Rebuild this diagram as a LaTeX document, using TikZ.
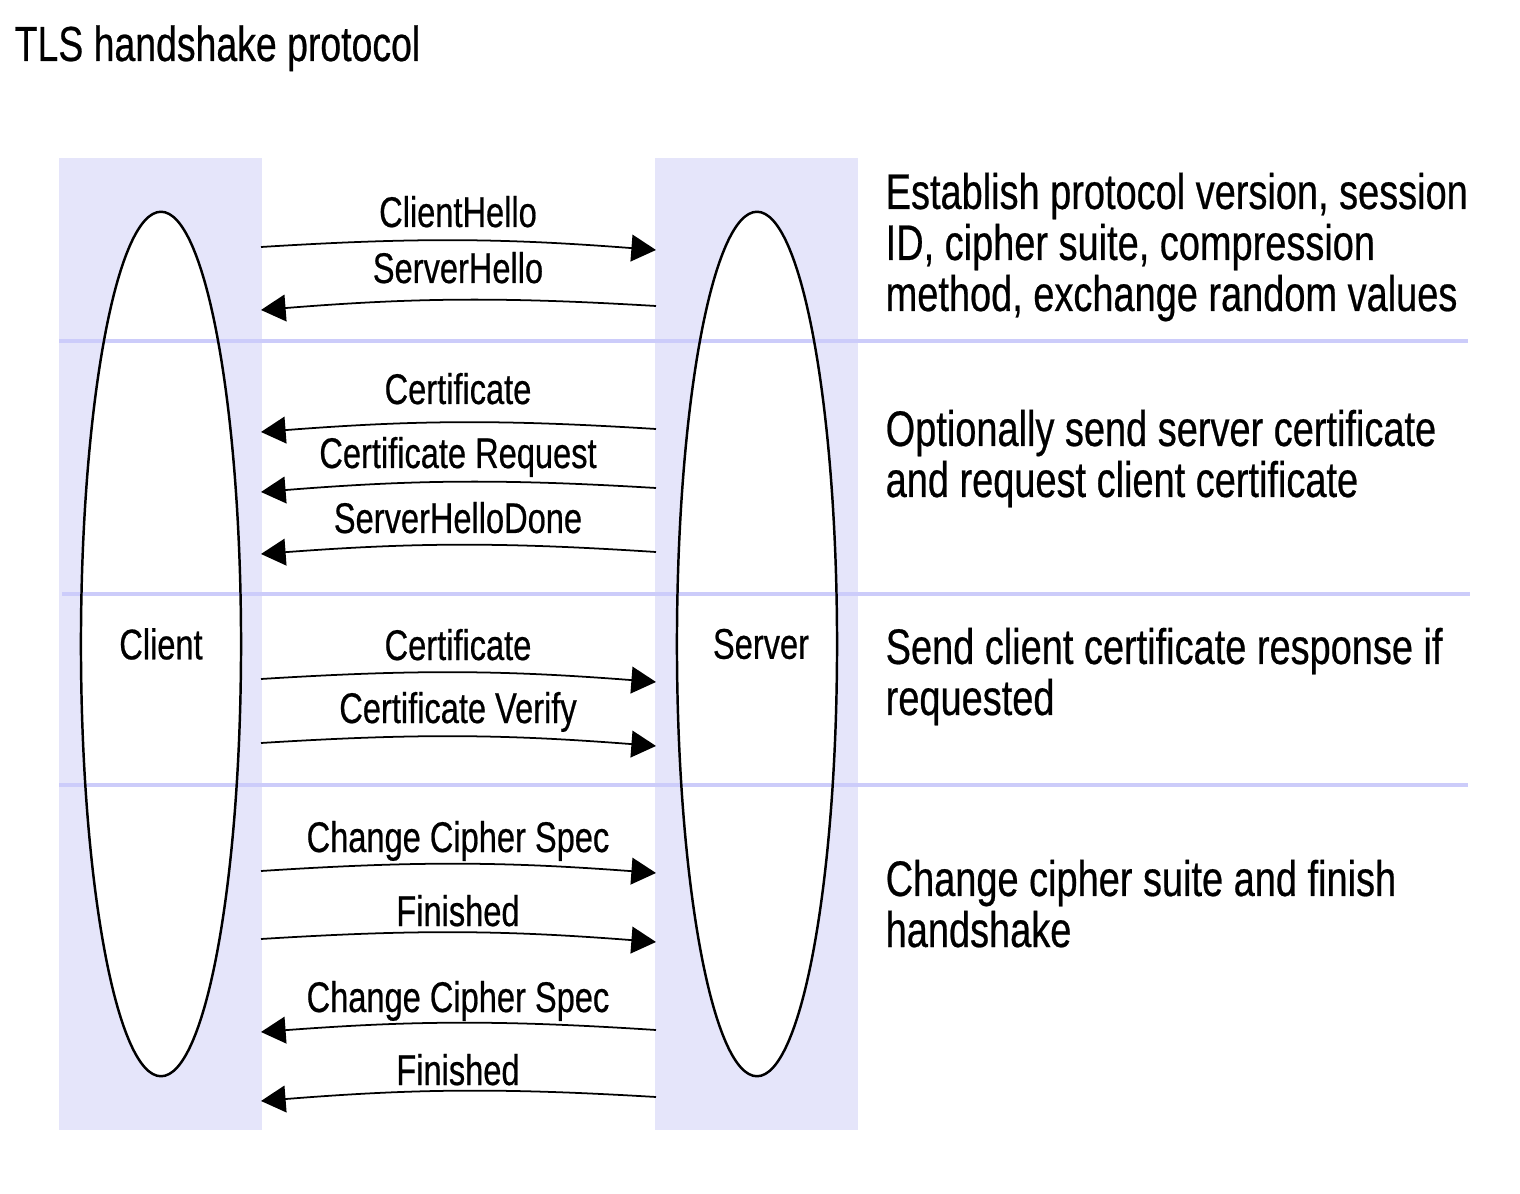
\documentclass[tikz,border=0pt]{standalone}
\usepackage{fontspec}
\setmainfont{Liberation Sans}[FakeStretch=0.76,FakeBold=0.5]
\usetikzlibrary{arrows.meta,%
                shapes.geometric}

\definecolor{laneblue}{RGB}{229,229,250}
\definecolor{splitblue}{RGB}{204,204,250}

\begin{document}
\begin{tikzpicture}[x=0.01cm,y=-0.01cm]
  \tikzstyle{LaneStyle}=[fill=laneblue,draw=none,inner sep=0pt,minimum width=2.03cm,minimum height=9.72cm]
  \tikzstyle{PeerStyle}=[ellipse,fill=white,inner sep=0pt,minimum width=1.6cm,minimum height=8.64cm,font=\fontsize{12.2}{14}\selectfont]
  \tikzstyle{SplitStyle}=[draw=splitblue,line width=1.15pt]
  \tikzstyle{RimStyle}=[draw=black,line width=0.7pt]
  \tikzstyle{MsgStyle}=[draw=black,line width=0.5pt,-{Triangle[length=7pt,width=7.6pt]}]
  \tikzstyle{MsgLabel}=[anchor=base,inner sep=0pt,font=\fontsize{12.2}{14}\selectfont]
  \tikzstyle{NoteStyle}=[anchor=base west,inner sep=0pt,align=left,font=\fontsize{14.2}{14.51}\selectfont]
  \useasboundingbox (0,0) rectangle (1520,1194);
  \node[anchor=base west,inner sep=0pt,font=\fontsize{14}{17}\selectfont] (title) at (14,61) {TLS handshake protocol};
  % lanes and peers
  \node[LaneStyle] (clilane) at (160.5,644) {};
  \node[LaneStyle] (srvlane) at (756.5,644) {};
  \node[PeerStyle] (cli) at (161,644) {Client};
  \node[PeerStyle] (srv) at (757,644) {\hspace*{0.08cm}Server};
  \draw[SplitStyle] (59,341) -- (1468,341);
  \draw[SplitStyle] (62,594) -- (1470,594);
  \draw[SplitStyle] (59,785) -- (1468,785);
  \draw[RimStyle] (cli.center) ellipse [x radius=0.8cm,y radius=4.32cm];
  \draw[RimStyle] (srv.center) ellipse [x radius=0.8cm,y radius=4.32cm];
  % message ends
  \coordinate (c1) at (261,247);  \coordinate (s1) at (656,250);
  \coordinate (s2) at (656,306);  \coordinate (c2) at (261,310);
  \coordinate (s3) at (656,429);  \coordinate (c3) at (261,432);
  \coordinate (s4) at (656,488);  \coordinate (c4) at (261,492);
  \coordinate (s5) at (656,552);  \coordinate (c5) at (261,554);
  \coordinate (c6) at (261,679);  \coordinate (s6) at (656,682);
  \coordinate (c7) at (261,743);  \coordinate (s7) at (656,746);
  \coordinate (c8) at (261,871);  \coordinate (s8) at (656,873);
  \coordinate (c9) at (261,939);  \coordinate (s9) at (656,942);
  \coordinate (s10) at (656,1030); \coordinate (c10) at (261,1032);
  \coordinate (s11) at (656,1097); \coordinate (c11) at (261,1101);
  % messages
  \draw[MsgStyle] (c1) to[bend left=4] (s1);
  \draw[MsgStyle] (s2) to[bend right=4] (c2);
  \draw[MsgStyle] (s3) to[bend right=4] (c3);
  \draw[MsgStyle] (s4) to[bend right=4] (c4);
  \draw[MsgStyle] (s5) to[bend right=4] (c5);
  \draw[MsgStyle] (c6) to[bend left=4] (s6);
  \draw[MsgStyle] (c7) to[bend left=4] (s7);
  \draw[MsgStyle] (c8) to[bend left=4] (s8);
  \draw[MsgStyle] (c9) to[bend left=4] (s9);
  \draw[MsgStyle] (s10) to[bend right=4] (c10);
  \draw[MsgStyle] (s11) to[bend right=4] (c11);
  \node[MsgLabel] (m1) at (458,227) {ClientHello};
  \node[MsgLabel] (m2) at (458,283) {ServerHello};
  \node[MsgLabel] (m3) at (458,404) {Certificate};
  \node[MsgLabel] (m4) at (458,468) {Certificate Request};
  \node[MsgLabel] (m5) at (458,533) {ServerHelloDone};
  \node[MsgLabel] (m6) at (458,660) {Certificate};
  \node[MsgLabel] (m7) at (458,723) {Certificate Verify};
  \node[MsgLabel] (m8) at (458,852) {Change Cipher Spec};
  \node[MsgLabel] (m9) at (458,926) {Finished};
  \node[MsgLabel] (m10) at (458,1012) {Change Cipher Spec};
  \node[MsgLabel] (m11) at (458,1085) {Finished};
  % phase notes (base = last line)
  \node[NoteStyle] (n1) at (885,311) {Establish protocol version, session\\ID, cipher suite, compression\\method, exchange random values};
  \node[NoteStyle] (n2) at (885,497) {Optionally send server certificate\\and request client certificate};
  \node[NoteStyle] (n3) at (885,715) {Send client certificate response if\\requested};
  \node[NoteStyle] (n4) at (885,947) {Change cipher suite and finish\\handshake};
\end{tikzpicture}
\end{document}
